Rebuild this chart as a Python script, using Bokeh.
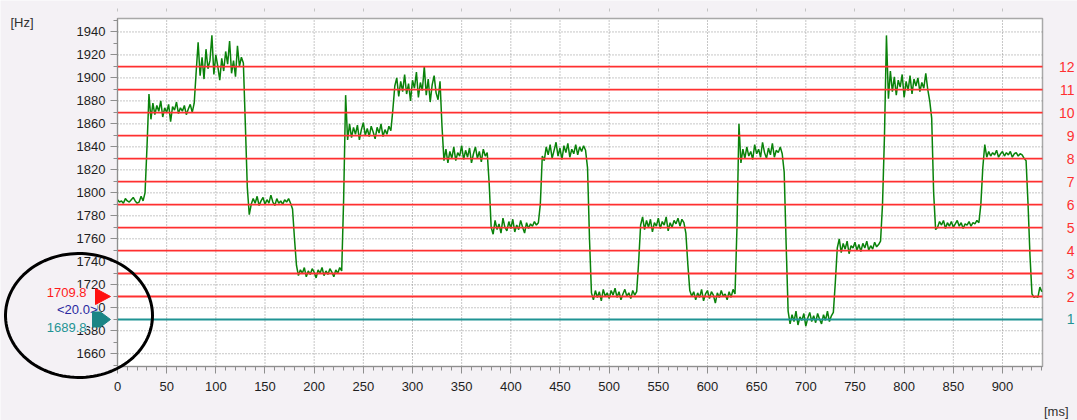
import numpy as np
from bokeh.plotting import figure
from bokeh.models import (Range1d, FixedTicker, Label, PolyAnnotation, BoxAnnotation, LinearAxis,
                          ColumnDataSource)
from bokeh.embed import file_html
from bokeh.resources import INLINE

# ---------------- data ----------------
x_ticks = [0, 50, 100, 150, 200, 250, 300, 350, 400, 450, 500, 550, 600, 650, 700, 750, 800, 850, 900]
y_ticks = [1660, 1680, 1700, 1720, 1740, 1760, 1780, 1800, 1820, 1840, 1860, 1880, 1900, 1920, 1940]

level_names = ["1", "2", "3", "4", "5", "6", "7", "8", "9", "10", "11", "12"]
level_hz = [1689.8, 1709.8, 1729.8, 1749.8, 1769.8, 1789.8, 1809.8, 1829.8, 1849.8, 1869.8, 1889.8, 1909.8]

cursor_hz = [1709.8, 1689.8]          # red cursor, teal cursor
cursor_delta_label = "<20.0>"
axis_unit_y = "[Hz]"
axis_unit_x = "[ms]"

sample_step_ms = 2
seg_start_ms = [0, 34, 82, 136, 184, 236, 284, 334, 382, 434, 484, 534, 584, 634, 684, 734, 784, 834, 884, 932]
seg_values = [
    [1794, 1792, 1793, 1791, 1795, 1793, 1792, 1794, 1796, 1793, 1791, 1792, 1797, 1793, 1800, 1840, 1886],
    [1864, 1878, 1868, 1876, 1871, 1880, 1866, 1874, 1870, 1877, 1862, 1875, 1872, 1879, 1869, 1874, 1871, 1876,
     1868, 1873, 1877, 1870, 1878, 1905],
    [1931, 1902, 1918, 1899, 1925, 1908, 1915, 1937, 1903, 1920, 1910, 1898, 1917, 1906, 1923, 1912, 1932, 1904,
     1915, 1901, 1928, 1910, 1918, 1913, 1860, 1805, 1781],
    [1790, 1795, 1791, 1797, 1789, 1793, 1796, 1790, 1794, 1791, 1798, 1792, 1789, 1795, 1791, 1793, 1790, 1794,
     1792, 1795, 1791, 1786, 1760, 1737],
    [1728, 1733, 1730, 1735, 1727, 1732, 1729, 1734, 1731, 1726, 1733, 1730, 1735, 1728, 1732, 1729, 1734, 1731,
     1727, 1733, 1730, 1735, 1732, 1795, 1885, 1846],
    [1860, 1848, 1857, 1851, 1859, 1846, 1855, 1861, 1850, 1856, 1849, 1858, 1853, 1847, 1857, 1852, 1860, 1849,
     1855, 1851, 1858, 1854, 1872, 1893],
    [1900, 1884, 1897, 1888, 1903, 1886, 1895, 1880, 1898, 1891, 1905, 1883, 1896, 1889, 1910, 1885, 1899, 1879,
     1894, 1902, 1887, 1881, 1897, 1858, 1828],
    [1838, 1826, 1836, 1830, 1840, 1828, 1835, 1832, 1841, 1829, 1837, 1831, 1839, 1826, 1834, 1840, 1830, 1836,
     1827, 1838, 1832, 1835, 1808, 1770],
    [1764, 1776, 1768, 1773, 1765, 1778, 1770, 1767, 1775, 1769, 1777, 1766, 1772, 1768, 1776, 1770, 1765, 1774,
     1769, 1773, 1771, 1775, 1772, 1774, 1790, 1832],
    [1828, 1840, 1833, 1842, 1830, 1837, 1844, 1832, 1839, 1829, 1841, 1835, 1843, 1831, 1838, 1834, 1842, 1833,
     1840, 1836, 1841, 1837, 1822, 1760, 1713],
    [1707, 1715, 1709, 1714, 1706, 1716, 1710, 1713, 1708, 1715, 1711, 1717, 1709, 1714, 1707, 1712, 1716, 1710,
     1713, 1708, 1715, 1711, 1714, 1740, 1772],
    [1779, 1768, 1776, 1770, 1777, 1766, 1774, 1771, 1778, 1769, 1775, 1772, 1779, 1767, 1774, 1770, 1776, 1773,
     1778, 1771, 1777, 1774, 1765, 1738, 1715],
    [1710, 1714, 1707, 1713, 1709, 1716, 1706, 1712, 1715, 1708, 1714, 1711, 1704, 1713, 1709, 1715, 1710, 1712,
     1707, 1714, 1709, 1716, 1712, 1770, 1860],
    [1826, 1838, 1830, 1840, 1832, 1836, 1829, 1842, 1834, 1838, 1831, 1844, 1835, 1830, 1839, 1833, 1843, 1831,
     1837, 1835, 1840, 1834, 1818, 1755, 1697],
    [1686, 1694, 1688, 1697, 1685, 1692, 1689, 1695, 1684, 1691, 1696, 1688, 1693, 1687, 1695, 1690, 1686, 1694,
     1689, 1697, 1688, 1693, 1696, 1722, 1752],
    [1760, 1748, 1756, 1751, 1758, 1747, 1754, 1752, 1757, 1750, 1755, 1749, 1756, 1752, 1758, 1750, 1754, 1751,
     1757, 1753, 1755, 1758, 1790, 1850, 1937],
    [1882, 1906, 1888, 1901, 1885, 1898, 1892, 1903, 1883, 1897, 1889, 1902, 1886, 1899, 1893, 1900, 1888, 1896,
     1891, 1904, 1890, 1880, 1865, 1800, 1768],
    [1770, 1775, 1772, 1776, 1769, 1774, 1771, 1775, 1770, 1773, 1776, 1771, 1774, 1769, 1773, 1772, 1775, 1771,
     1774, 1773, 1776, 1774, 1790, 1822, 1842],
    [1831, 1836, 1832, 1835, 1833, 1837, 1831, 1834, 1836, 1832, 1835, 1833, 1836, 1831, 1834, 1835, 1832, 1834,
     1833, 1830, 1828, 1790, 1745, 1712],
    [1709, 1710, 1709, 1718, 1714],
]

# ---------------- geometry ----------------
W, H = 1077, 420
AREA_L, AREA_R, AREA_T, AREA_B = 117, 1042, 18, 366     # plot area in canvas px
X0, X1 = 0.0, 940.7                                      # ms shown in plot area
Y0, Y1 = 1648.9, 1951.7                                  # Hz shown in plot area
PXMS = (AREA_R - AREA_L) / (X1 - X0)
PXHZ = (AREA_B - AREA_T) / (Y1 - Y0)


def px_x(px):
    return X0 + (px - AREA_L) / PXMS


def px_y(py):
    return Y1 - (py - AREA_T) / PXHZ


def dx(px):
    return px / PXMS


def dy(py):
    return py / PXHZ


PAGE = "#F4F1F5"
GRID = "#8E8E8E"
AXIS = "#8E8E8E"
RED = "#FF3030"
TEAL = "#1F9494"
GREEN = "#0A820A"
FONT = "Liberation Sans"

p = figure(width=W, height=H,
           x_range=Range1d(px_x(0), px_x(W)), y_range=Range1d(px_y(H), px_y(0)),
           x_axis_type=None, y_axis_type=None, title_location=None,
           output_backend="svg", toolbar_location=None,
           min_border=0, min_border_left=0, min_border_right=0, min_border_top=0, min_border_bottom=0,
           background_fill_color=PAGE, border_fill_color=PAGE, outline_line_color=None)

# white plot area with border
p.add_layout(BoxAnnotation(left=X0, right=X1, bottom=Y0, top=Y1, level="image",
                           fill_color="white", fill_alpha=1,
                           line_color="#A8A8A8", line_alpha=1, line_width=1.5))

# dotted grid
p.segment(x0=x_ticks[1:], x1=x_ticks[1:], y0=Y0, y1=Y1, line_color=GRID, line_dash="1 2", line_width=1)
p.segment(x0=X0, x1=X1, y0=y_ticks, y1=y_ticks, line_color=GRID, line_dash="1 2", line_width=1)

# axes fixed at the plot-area edges
xax = LinearAxis(fixed_location=Y0, bounds=(X0, X1))
yax = LinearAxis(fixed_location=X0, bounds=(Y0, Y1))
xax.ticker = FixedTicker(ticks=x_ticks, minor_ticks=list(range(0, 941, 10)))
yax.ticker = FixedTicker(ticks=y_ticks, minor_ticks=list(range(1650, 1951, 10)))
for ax in (xax, yax):
    ax.axis_line_color = AXIS
    ax.major_tick_line_color = AXIS
    ax.minor_tick_line_color = AXIS
    ax.major_tick_in = 0
    ax.minor_tick_in = 0
    ax.major_tick_out = 7
    ax.minor_tick_out = 4
    ax.major_label_text_font = FONT
    ax.major_label_text_font_size = "13px"
    ax.major_label_text_color = "#1E1E1E"
yax.major_label_standoff = 5
xax.major_label_standoff = 8
p.add_layout(xax, "below")
p.add_layout(yax, "left")

# faint ruler ticks above the plot area
tax = LinearAxis(fixed_location=px_y(10.5), bounds=(X0, X1))
tax.ticker = FixedTicker(ticks=x_ticks, minor_ticks=[])
tax.axis_line_color = None
tax.major_tick_line_color = "#C4C4C4"
tax.minor_tick_line_color = None
tax.major_tick_in = 0
tax.major_tick_out = 3
tax.major_label_text_color = None
tax.major_label_text_font_size = "1px"
p.add_layout(tax, "above")

# signal
sig_t = []
sig_v = []
for start, vals in zip(seg_start_ms, seg_values):
    for i, v in enumerate(vals):
        sig_t.append(start + i * sample_step_ms)
        sig_v.append(v)
p.line(sig_t, sig_v, line_color=GREEN, line_width=1.5)

# level lines (red) and base line (teal)
lvl_src = ColumnDataSource(dict(y=level_hz, c=[TEAL] + [RED] * (len(level_hz) - 1)))
p.segment(x0=X0, x1=X1, y0="y", y1="y", line_color="c", line_width=1.8, source=lvl_src)

# right-hand level numbers
for name, hz in zip(level_names, level_hz):
    p.add_layout(Label(x=px_x(1074), y=hz, text=name, text_align="right", text_baseline="middle",
                       text_font=FONT, text_font_size="14px",
                       text_color=TEAL if name == "1" else RED))

# cursor readouts on left (page-coloured boxes hide the tick labels beneath)
p.add_layout(Label(x=px_x(86), y=px_y(292), text=f"{cursor_hz[0]:.1f}", text_align="right",
                   text_baseline="middle", text_font=FONT, text_font_size="13px", text_color="#FF1A1A",
                   background_fill_color=PAGE, background_fill_alpha=1))
p.add_layout(Label(x=px_x(97), y=px_y(309), text=cursor_delta_label, text_align="right",
                   text_baseline="middle", text_font=FONT, text_font_size="13px", text_color="#2828A0",
                   background_fill_color=PAGE, background_fill_alpha=1))
p.add_layout(Label(x=px_x(86), y=px_y(327), text=f"{cursor_hz[1]:.1f}", text_align="right",
                   text_baseline="middle", text_font=FONT, text_font_size="13px", text_color=TEAL,
                   background_fill_color=PAGE, background_fill_alpha=1))

# cursor markers
tri_x0, tri_x1 = px_x(95), px_x(110)
p.add_layout(PolyAnnotation(xs=[tri_x0, tri_x0, tri_x1],
                            ys=[cursor_hz[0] + dy(8), cursor_hz[0] - dy(8), cursor_hz[0]],
                            fill_color="#FF1010", fill_alpha=1, line_color="#FF1010", line_alpha=1,
                            line_width=1))
pen_a, pen_b, pen_c = px_x(92), px_x(100), px_x(110)
p.add_layout(PolyAnnotation(xs=[pen_a, pen_b, pen_c, pen_b, pen_a],
                            ys=[cursor_hz[1] + dy(7.5), cursor_hz[1] + dy(7.5), cursor_hz[1],
                                cursor_hz[1] - dy(7.5), cursor_hz[1] - dy(7.5)],
                            fill_color="#1A8585", fill_alpha=1, line_color="#1A8585", line_alpha=1,
                            line_width=1))

# unit labels
p.add_layout(Label(x=px_x(10), y=px_y(22), text=axis_unit_y, text_align="left", text_baseline="middle",
                   text_font=FONT, text_font_size="13px", text_color="#303030"))
p.add_layout(Label(x=px_x(1068), y=px_y(411), text=axis_unit_x, text_align="right", text_baseline="middle",
                   text_font=FONT, text_font_size="13px", text_color="#303030"))

# black ellipse annotation
ang = np.linspace(0, 2 * np.pi, 120)
ecx, ecy = px_x(78.5), px_y(315)
erx, ery = dx(73.5), dy(62)
p.add_layout(PolyAnnotation(xs=list(ecx + erx * np.cos(ang)), ys=list(ecy + ery * np.sin(ang)),
                            fill_alpha=0, line_color="black", line_alpha=1, line_width=3))

open("out.html", "w").write(file_html(p, INLINE))
